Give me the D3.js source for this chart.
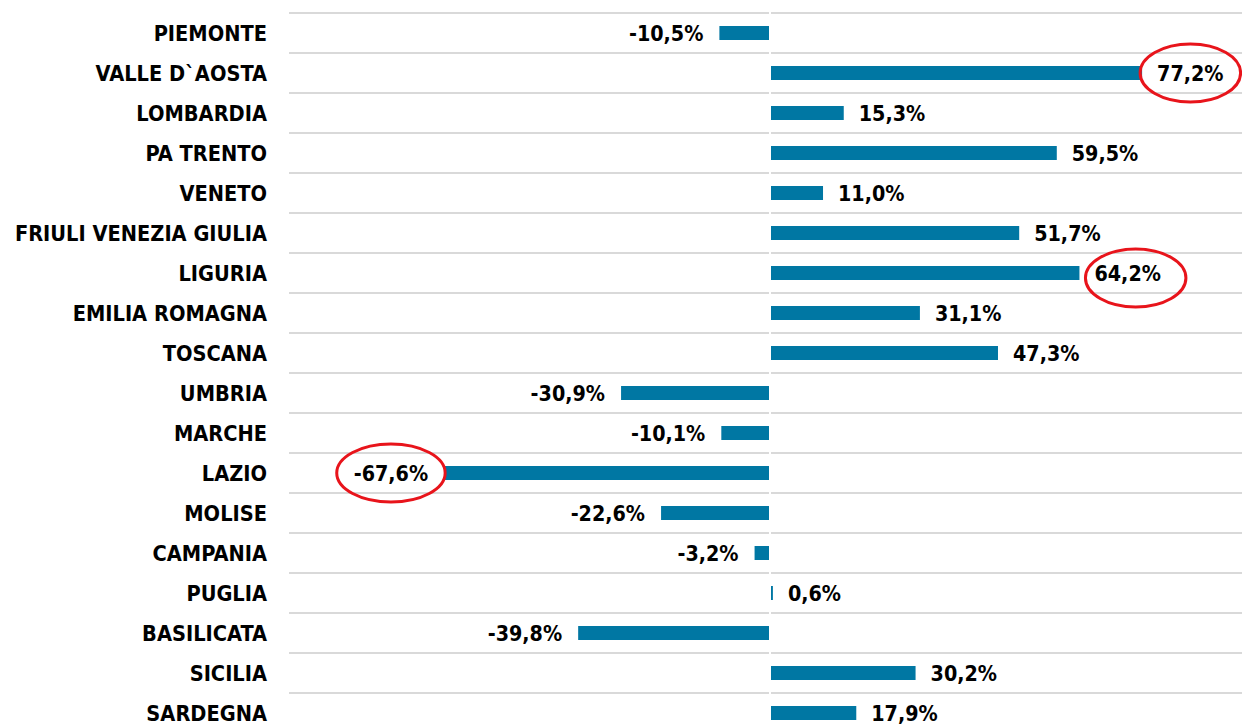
<!DOCTYPE html>
<html>
<head>
<meta charset="utf-8">
<script src="https://cdn.jsdelivr.net/npm/d3@7"></script>
<style>
  body { margin: 0; background: #fff; }
  text { font-family: "DejaVu Sans Condensed", "DejaVu Sans", sans-serif; font-weight: bold; font-stretch: condensed; }
</style>
</head>
<body>
<div id="chart"></div>
<script>
const regions = ["PIEMONTE", "VALLE D`AOSTA", "LOMBARDIA", "PA TRENTO", "VENETO",
  "FRIULI VENEZIA GIULIA", "LIGURIA", "EMILIA ROMAGNA", "TOSCANA", "UMBRIA", "MARCHE",
  "LAZIO", "MOLISE", "CAMPANIA", "PUGLIA", "BASILICATA", "SICILIA", "SARDEGNA"];
const values = [-10.5, 77.2, 15.3, 59.5, 11.0, 51.7, 64.2, 31.1, 47.3, -30.9, -10.1,
  -67.6, -22.6, -3.2, 0.6, -39.8, 30.2, 17.9];
// regions circled in red
const highlighted = ["VALLE D`AOSTA", "LIGURIA", "LAZIO"];

const data = regions.map((r, i) => ({ region: r, value: values[i] }));

const width = 1242;
const height = 727;

const svg = d3.select("#chart").append("svg")
    .attr("width", width)
    .attr("height", height);

const x = d3.scaleLinear()
    .domain([-100, 100])
    .range([288, 1252]);

const y = d3.scaleBand()
    .domain(regions)
    .range([13, 733])
    .paddingInner(0.65)
    .paddingOuter(0.325);

// italian style: comma decimal, plain hyphen for minus
const locale = d3.formatLocale({ decimal: ",", thousands: ".", grouping: [3], currency: ["", "€"], minus: "-" });
const fmt = v => locale.format(".1f")(v) + "%";

// gridlines between rows
svg.append("g")
    .selectAll("line")
    .data(d3.range(regions.length + 1))
    .join("line")
    .attr("x1", 289)
    .attr("x2", width)
    .attr("y1", i => 13 + i * y.step())
    .attr("y2", i => 13 + i * y.step())
    .attr("stroke", "#d9d9d9")
    .attr("stroke-width", 2);

svg.append("g")
    .selectAll("rect")
    .data(data)
    .join("rect")
    .attr("x", d => x(Math.min(0, d.value)))
    .attr("y", d => y(d.region))
    .attr("width", d => Math.abs(x(d.value) - x(0)))
    .attr("height", y.bandwidth())
    .attr("fill", "#0077a3");

// white zero line
svg.append("line")
    .attr("x1", x(0))
    .attr("x2", x(0))
    .attr("y1", 0)
    .attr("y2", height)
    .attr("stroke", "#fff")
    .attr("stroke-width", 2);

// category labels
svg.append("g")
    .selectAll("text")
    .data(data)
    .join("text")
    .attr("x", 267)
    .attr("y", d => y(d.region) + y.bandwidth() / 2)
    .attr("dy", "0.37em")
    .attr("text-anchor", "end")
    .style("font-size", "21.6px")
    .text(d => d.region);

// value labels
const valueLabels = svg.append("g")
    .selectAll("text")
    .data(data)
    .join("text")
    .attr("x", d => d.value < 0 ? x(d.value) - 16 : x(d.value) + 15)
    .attr("y", d => y(d.region) + y.bandwidth() / 2)
    .attr("dy", "0.37em")
    .attr("text-anchor", d => d.value < 0 ? "end" : "start")
    .style("font-size", "21.3px")
    .text(d => fmt(d.value));

// red ellipses around highlighted labels
valueLabels.filter(d => highlighted.includes(d.region)).each(function(d) {
    const b = this.getBBox();
    svg.append("ellipse")
        .attr("cx", b.x + b.width / 2 + (d.region === "LIGURIA" ? 8 : 0))
        .attr("cy", y(d.region) + y.bandwidth() / 2 + (d.region === "LIGURIA" ? 5 : 0))
        .attr("rx", b.width / 2 + 17)
        .attr("ry", 29)
        .attr("fill", "none")
        .attr("stroke", "#e8141b")
        .attr("stroke-width", 3);
});
</script>
</body>
</html>
